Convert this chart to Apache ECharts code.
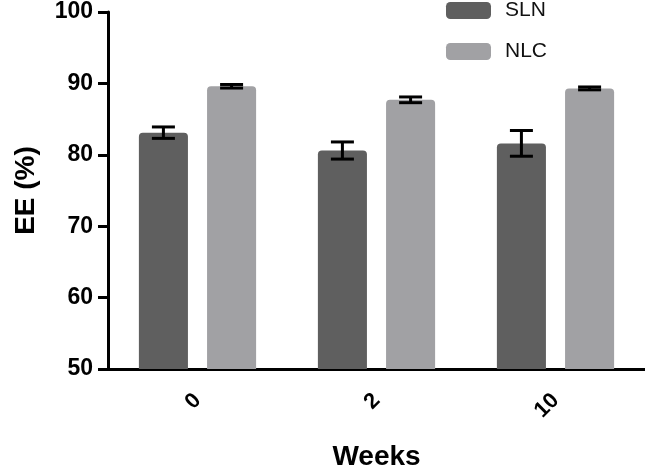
<!DOCTYPE html>
<html>
<head>
<meta charset="utf-8">
<script src="https://cdn.jsdelivr.net/npm/echarts@6/dist/echarts.min.js"></script>
<style>
  html, body { margin: 0; padding: 0; background: #fff; }
  #chart { width: 645px; height: 476px; }
</style>
</head>
<body>
<div id="chart"></div>
<script>
// data
var weeks = ["0", "2", "10"];
var slnMean = [83.1, 80.6, 81.6];
var slnErr = [0.8, 1.2, 1.8];
var nlcMean = [89.6, 87.7, 89.3];
var nlcErr = [0.25, 0.4, 0.2];
var yTicks = [50, 60, 70, 80, 90, 100];

var FONT = "Liberation Sans";
var BAR_W = 0.274, GAP = 0.39;

function errSeries(name, mean, err, side) {
  var data = mean.map(function (m, i) { return [i, m - err[i], m + err[i]]; });
  return {
    name: name + " err",
    type: "custom",
    z: 10,
    silent: true,
    renderItem: function (params, api) {
      var band = api.size([1, 0])[0];
      var off = side * band * BAR_W * (1 + GAP) / 2;
      var lo = api.coord([api.value(0), api.value(1)]);
      var hi = api.coord([api.value(0), api.value(2)]);
      var x = lo[0] + off;
      var cap = 11.5;
      var st = { stroke: "#000", lineWidth: 3 };
      return {
        type: "group",
        children: [
          { type: "line", shape: { x1: x, y1: hi[1], x2: x, y2: lo[1] }, style: st },
          { type: "line", shape: { x1: x - cap, y1: hi[1], x2: x + cap, y2: hi[1] }, style: st },
          { type: "line", shape: { x1: x - cap, y1: lo[1], x2: x + cap, y2: lo[1] }, style: st }
        ]
      };
    },
    encode: { x: 0, y: [1, 2] },
    data: data
  };
}

var myChart = echarts.init(document.getElementById("chart"));
var option = {
  animation: false,
  textStyle: { fontFamily: FONT },
  legend: {
    orient: "vertical",
    left: 441,
    top: -5,
    itemWidth: 45,
    itemHeight: 17,
    itemGap: 20,
    data: ["SLN", "NLC"],
    itemStyle: { borderRadius: 4 },
    textStyle: { fontFamily: FONT, fontSize: 21, color: "#111", padding: [0, 0, 0, 9] }
  },
  grid: { left: 108, right: 0, top: 12, bottom: 106 },
  xAxis: {
    type: "category",
    data: weeks,
    name: "Weeks",
    nameLocation: "middle",
    nameGap: 74,
    nameTextStyle: { fontFamily: FONT, fontSize: 28, fontWeight: "bold", color: "#000" },
    axisLine: { lineStyle: { color: "#000", width: 3 } },
    axisTick: { alignWithLabel: true, length: 9, lineStyle: { color: "#000", width: 3 } },
    axisLabel: { rotate: 45, margin: 28, fontFamily: FONT, fontSize: 22, fontWeight: "bold", color: "#000" }
  },
  yAxis: {
    type: "value",
    min: yTicks[0],
    max: yTicks[yTicks.length - 1],
    interval: 10,
    name: "EE (%)",
    nameLocation: "middle",
    nameGap: 68,
    nameTextStyle: { fontFamily: FONT, fontSize: 28, fontWeight: "bold", color: "#000" },
    axisLine: { show: true, lineStyle: { color: "#000", width: 3 } },
    axisTick: { show: true, length: 10, lineStyle: { color: "#000", width: 3 } },
    axisLabel: { margin: 15, fontFamily: FONT, fontSize: 23, fontWeight: "bold", color: "#000" },
    splitLine: { show: false }
  },
  series: [
    {
      name: "SLN",
      type: "bar",
      barWidth: (BAR_W * 100) + "%",
      barGap: (GAP * 100) + "%",
      itemStyle: { color: "#5f5f5f", borderRadius: [4, 4, 0, 0] },
      data: slnMean
    },
    {
      name: "NLC",
      type: "bar",
      barWidth: (BAR_W * 100) + "%",
      barGap: (GAP * 100) + "%",
      itemStyle: { color: "#a1a1a4", borderRadius: [4, 4, 0, 0] },
      data: nlcMean
    },
    errSeries("SLN", slnMean, slnErr, -1),
    errSeries("NLC", nlcMean, nlcErr, 1)
  ]
};
option && myChart.setOption(option);
</script>
</body>
</html>
